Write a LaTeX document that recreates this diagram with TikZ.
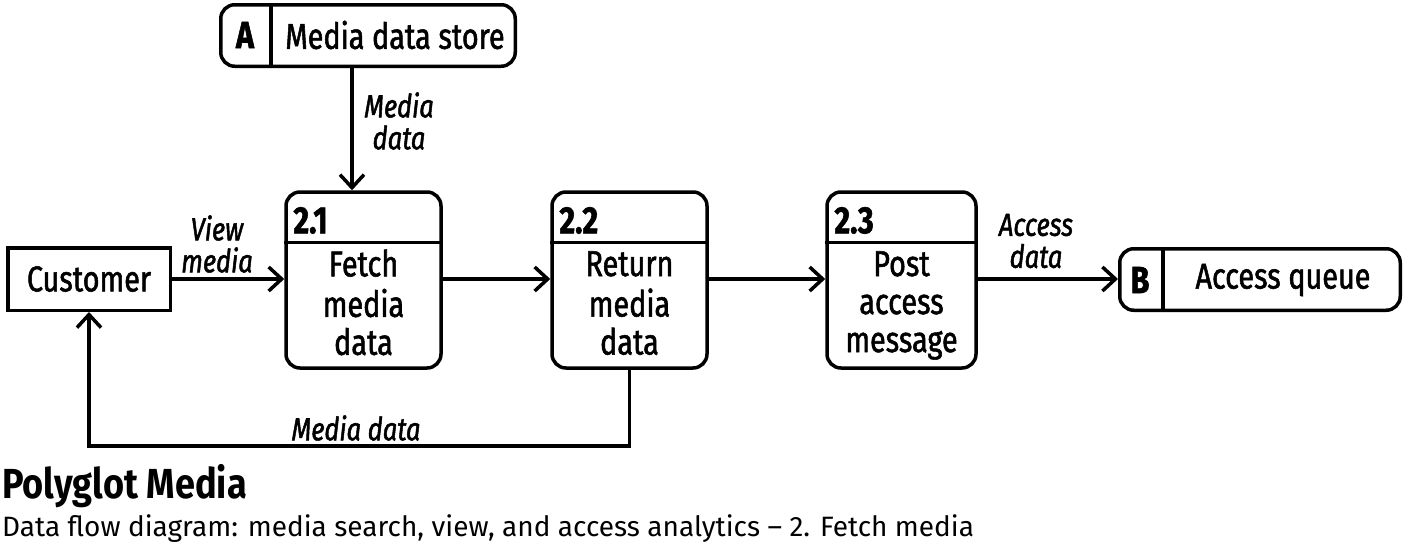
\documentclass[tikz,border=0pt]{standalone}
\usepackage{fontspec}
\setmainfont{Fira Sans}
\newfontfamily\dfdfont{Fira Sans}[FakeStretch=0.8, FakeBold=1.5]
\newfontfamily\titlefont{Fira Sans}[FakeStretch=0.86]
\usetikzlibrary{positioning, calc, arrows.meta}

\begin{document}
\begin{tikzpicture}[x=1pt, y=-1pt,
  flow/.style={line width=3.5pt, -{Straight Barb[length=13pt, width=24pt, line width=3.5pt]}},
  process/.style={rectangle, rounded corners=14pt, draw, line width=3.5pt, minimum width=153pt, minimum height=176pt},
  store/.style={rectangle, rounded corners=14pt, draw, line width=3.5pt, minimum height=61.5pt},
  entity/.style={rectangle, draw, line width=3.5pt, minimum width=162.5pt, minimum height=62.5pt, font=\dfdfont\fontsize{36}{38}\selectfont},
  head/.style={font=\dfdfont\bfseries\fontsize{38}{38}\selectfont, anchor=base west, inner sep=0pt},
  body/.style={font=\dfdfont\fontsize{36}{38}\selectfont, align=center, inner sep=0pt},
  flowlabel/.style={font=\dfdfont\itshape\fontsize{32}{32}\selectfont, align=center, inner sep=0pt}
]
    \useasboundingbox (0,0) rectangle (1406,549);

    % External entity
    \node[entity] (cust) at (89,279) {Customer};

    % Processes
    \node[process, minimum width=155pt] (p21) at (363.5,280) {};
    \node[process, minimum width=155pt] (p22) at (629.5,280) {};
    \node[process, minimum width=149pt] (p23) at (901.5,280) {};

    \foreach \p/\num in {p21/2.1, p22/2.2, p23/2.3} {
      \draw[line width=3.5pt] ($(\p.north west)+(0,52)$) -- ($(\p.north east)+(0,52)$);
      \node[head] (\p h) at ($(\p.north west)+(9,43)$) {\num};
    }

    \node[body, anchor=north] (p21b) at ($(p21.north)+(0,59)$) {\strut Fetch\\media\\data};
    \node[body, anchor=north] (p22b) at ($(p22.north)+(0,59)$) {\strut Return\\media\\data};
    \node[body, anchor=north] (p23b) at ($(p23.north)+(0,59)$) {\strut Post\\access\\message};

    % Data stores
    \node[store, minimum width=294.5pt] (sa) at (368,35.5) {};
    \draw[line width=3.5pt] ($(sa.north west)+(52,0)$) -- ($(sa.south west)+(52,0)$);
    \node[head, anchor=center] (said) at (245,35) {A};
    \node[body] (saname) at (395,35) {Media data store};

    \node[store, minimum width=280.5pt] (sb) at (1260,279.5) {};
    \draw[line width=3.5pt] ($(sb.north west)+(45,0)$) -- ($(sb.south west)+(45,0)$);
    \node[head, anchor=center] (sbid) at (1140,280) {B};
    \node[body] (sbname) at (1283,280) {Access queue};

    % Flows
    \coordinate (ma) at (352,0);
    \draw[flow] (sa.south -| ma) -- (p21.north -| ma);
    \draw[flow] (cust.east) -- (cust.east -| p21.west);
    \draw[flow] (p21.east |- cust.east) -- (p22.west |- cust.east);
    \draw[flow] (p22.east |- cust.east) -- (p23.west |- cust.east);
    \draw[flow] (p23.east |- cust.east) -- (sb.west |- cust.east);
    \draw[flow] (p22.south) -- ++(0,76) -| (cust.south);

    % Flow labels
    \node[flowlabel] (lma) at (399,121) {Media\\data};
    \node[flowlabel] (lvm) at (217,244) {View\\media};
    \node[flowlabel] (lad) at (1036,241) {Access\\data};
    \node[flowlabel] (lmd) at (356,428) {Media data};

    % Caption
    \node[anchor=base west, inner sep=0pt, font=\titlefont\bfseries\fontsize{42}{46}\selectfont] (title) at (2,498) {Polyglot Media};
    \node[anchor=base west, inner sep=0pt, font=\fontsize{28}{32}\selectfont] (subtitle) at (2,536) {Data flow diagram: media search, view, and access analytics – 2. Fetch media};
\end{tikzpicture}
\end{document}
